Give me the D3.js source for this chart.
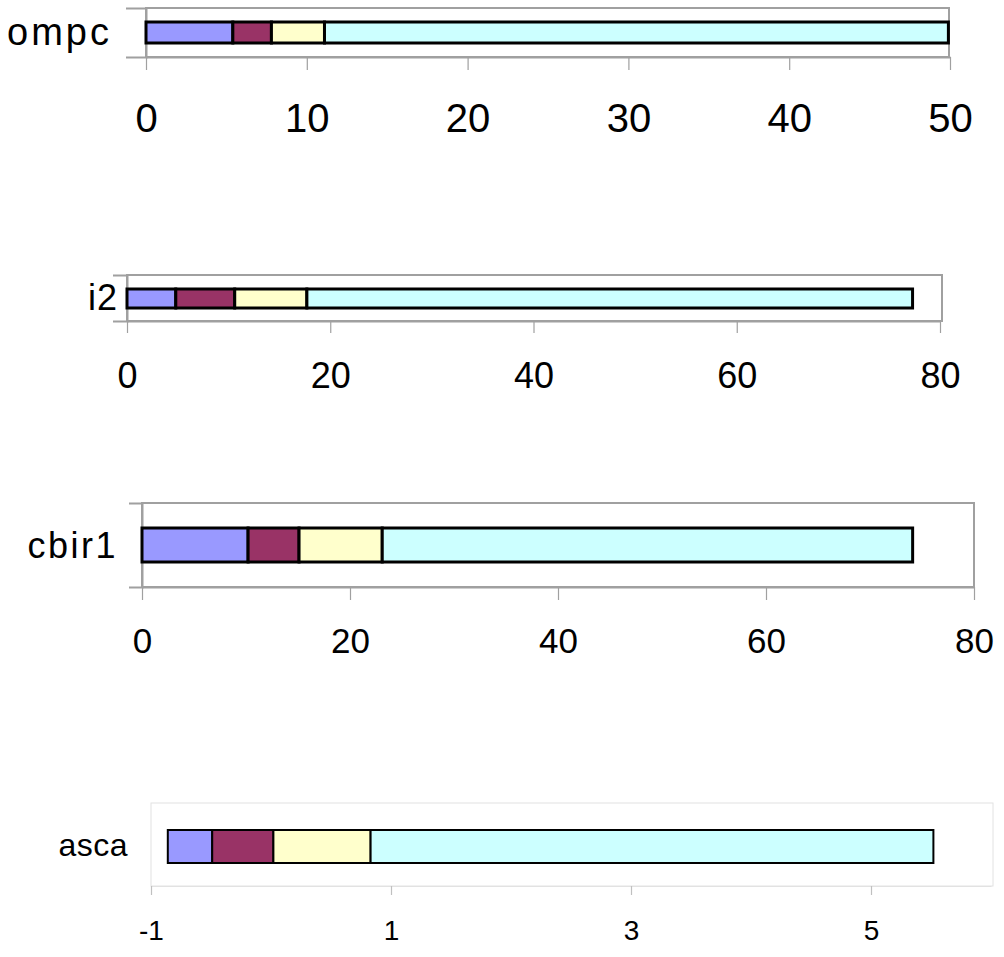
<!DOCTYPE html>
<html>
<head>
<meta charset="utf-8">
<script src="https://cdn.jsdelivr.net/npm/d3@7/dist/d3.min.js"></script>
<style>
  html, body { margin: 0; padding: 0; background: #fff; }
  svg { display: block; }
  text { font-family: Arial, "Liberation Sans", sans-serif; fill: #000; }
</style>
</head>
<body>
<svg id="chart" width="1004" height="957"></svg>
<script>
// ---- data ----
const categories = ["ompc", "i2", "cbir1", "asca"];
const series1 = [5.4, 4.8, 10.2, 0.37];   // blue
const series2 = [2.4, 5.8, 4.9, 0.51];    // maroon
const series3 = [3.3, 7.1, 8.0, 0.81];    // yellow
const series4 = [38.8, 59.6, 51.0, 4.69]; // cyan
const barStart = [0, 0, 0, -0.86];
const axisMin = [0, 0, 0, -1];
const axisMax = [50, 80, 80, 6];
const tickLabels = [
  [0, 10, 20, 30, 40, 50],
  [0, 20, 40, 60, 80],
  [0, 20, 40, 60, 80],
  [-1, 1, 3, 5]
];
const seriesColors = ["#9999FF", "#993366", "#FFFFCC", "#CCFFFF"];

// ---- layout (not data) ----
const panels = [
  { x0: 146, x1: 950, frameR: 949, top: 8, bottom: 57, barTop: 22, barBot: 43,
    tickLen: 13, leftTick: 20, tickFont: 40, tickY: 118, labFont: 38, labLS: 3, labX: 112, labY: 33,
    frameColor: "#a0a0a0", frameW: 2, barW: 3, tickColor: "#a0a0a0", leftTicks: true },
  { x0: 127, x1: 940, frameR: 942, top: 275, bottom: 321, barTop: 289, barBot: 308,
    tickLen: 12, leftTick: 14, tickFont: 36, tickY: 375, labFont: 36, labLS: 1, labX: 118, labY: 298,
    frameColor: "#a0a0a0", frameW: 2, barW: 3, tickColor: "#a0a0a0", leftTicks: true },
  { x0: 142, x1: 974, frameR: 974, top: 503, bottom: 587, barTop: 528, barBot: 562,
    tickLen: 13, leftTick: 13, tickFont: 35, tickY: 640, labFont: 36, labLS: 2.5, labX: 118, labY: 546,
    frameColor: "#a0a0a0", frameW: 2, barW: 3, tickColor: "#a0a0a0", leftTicks: true },
  { x0: 151, x1: 991, frameR: 993, top: 803, bottom: 886, barTop: 830, barBot: 863,
    tickLen: 9, leftTick: 0, tickFont: 28, tickY: 930, labFont: 32, labLS: 0.5, labX: 128, labY: 846,
    frameColor: "#e2e2e2", frameW: 1, barW: 2, tickColor: "#c0c0c0", leftTicks: false }
];

const svg = d3.select("#chart");
const allSeries = [series1, series2, series3, series4];

categories.forEach((cat, i) => {
  const p = panels[i];
  const x = d3.scaleLinear().domain([axisMin[i], axisMax[i]]).range([p.x0, p.x1]);
  const g = svg.append("g");

  // plot frame
  g.append("rect")
    .attr("x", p.x0).attr("y", p.top)
    .attr("width", p.frameR - p.x0).attr("height", p.bottom - p.top)
    .attr("fill", "#fff")
    .attr("stroke", p.frameColor).attr("stroke-width", p.frameW);

  // left category-axis ticks
  if (p.leftTicks) {
    const yb = d3.scaleBand().domain([cat]).range([p.top, p.bottom]);
    const yAxis = d3.axisLeft(yb).tickValues([]).tickSizeOuter(p.leftTick);
    const ya = g.append("g").attr("transform", `translate(${p.x0},0)`).call(yAxis);
    ya.select(".domain").attr("stroke", p.frameColor).attr("stroke-width", p.frameW);
  }

  // bottom value axis
  const xAxis = d3.axisBottom(x).tickValues(tickLabels[i]).tickSize(p.tickLen).tickSizeOuter(0)
    .tickFormat(d => String(d));
  const xa = g.append("g").attr("transform", `translate(0,${p.bottom})`).call(xAxis);
  xa.select(".domain").attr("stroke", p.frameColor).attr("stroke-width", p.frameW);
  xa.selectAll(".tick line").attr("stroke", p.tickColor).attr("stroke-width", 1.2);
  xa.selectAll(".tick text")
    .attr("y", p.tickY - p.bottom).attr("dy", "0.36em")
    .style("font-size", p.tickFont + "px")
    .style("font-family", "Arial, 'Liberation Sans', sans-serif")
    .attr("fill", "#000");

  // stacked bar segments
  let acc = barStart[i];
  const segs = allSeries.map((s, k) => {
    const seg = { s: acc, e: acc + s[i], color: seriesColors[k] };
    acc += s[i];
    return seg;
  });
  g.selectAll("rect.seg").data(segs).enter().append("rect")
    .attr("class", "seg")
    .attr("x", d => x(d.s)).attr("y", p.barTop)
    .attr("width", d => x(d.e) - x(d.s)).attr("height", p.barBot - p.barTop)
    .attr("fill", d => d.color)
    .attr("stroke", "#000").attr("stroke-width", p.barW);

  // category label
  g.append("text")
    .attr("x", p.labX).attr("y", p.labY).attr("dy", "0.32em")
    .attr("text-anchor", "end")
    .style("font-size", p.labFont + "px")
    .style("letter-spacing", p.labLS + "px")
    .text(cat);
});
</script>
</body>
</html>
